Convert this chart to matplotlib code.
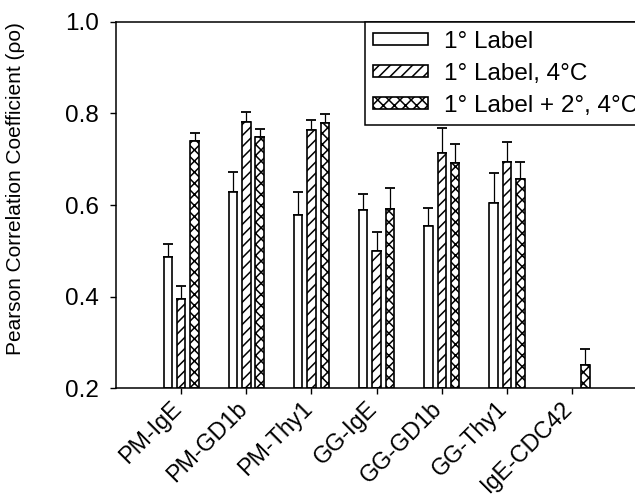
import numpy as np
import matplotlib
matplotlib.use("Agg")
import matplotlib.pyplot as plt
from matplotlib.transforms import ScaledTranslation

plt.rcParams["font.family"] = ["Liberation Sans", "DejaVu Sans"]
plt.rcParams["hatch.linewidth"] = 1.1

# Pearson correlation per probe pair and labelling condition
pairs = ["PM-IgE", "PM-GD1b", "PM-Thy1", "GG-IgE", "GG-GD1b", "GG-Thy1", "IgE-CDC42"]
series_names = ["1° Label", "1° Label, 4°C", "1° Label + 2°, 4°C"]

primary = [0.487, 0.628, 0.578, 0.588, 0.555, 0.604, np.nan]
primary_err = [0.028, 0.045, 0.051, 0.036, 0.038, 0.067, np.nan]

primary_cold = [0.395, 0.781, 0.764, 0.499, 0.714, 0.693, np.nan]
primary_cold_err = [0.028, 0.022, 0.022, 0.043, 0.055, 0.045, np.nan]

secondary_cold = [0.740, 0.748, 0.779, 0.591, 0.692, 0.657, 0.250]
secondary_cold_err = [0.017, 0.019, 0.019, 0.046, 0.041, 0.036, 0.036]

values = [primary, primary_cold, secondary_cold]
errors = [primary_err, primary_cold_err, secondary_cold_err]
hatches = ["", "///", "xxx"]
offsets = [-0.205, 0.0, 0.205]

fig = plt.figure(figsize=(6.35, 4.98), dpi=100)
ax = fig.add_axes([116 / 635, 1 - 388 / 498, (647 - 116) / 635, (388 - 22) / 498])

x = np.arange(len(pairs))
for vals, errs, hatch, off, name in zip(values, errors, hatches, offsets, series_names):
    vals = np.array(vals)
    errs = np.array(errs)
    ax.bar(x + off, vals - 0.2, bottom=0.2, width=0.13, color="white",
           edgecolor="black", linewidth=1.2, hatch=hatch, label=name, zorder=2)
    ax.errorbar(x + off, vals, yerr=[np.zeros_like(errs), errs], fmt="none",
                ecolor="black", elinewidth=0.9, capsize=3.3, capthick=1.3, zorder=1)

ax.set_xlim(-1.0, 7.15)
ax.set_ylim(0.2, 1.0)
ax.set_yticks([0.2, 0.4, 0.6, 0.8, 1.0])
ax.set_yticklabels(["0.2", "0.4", "0.6", "0.8", "1.0"], fontsize=17.5)
ax.set_xticks(x)
ax.set_xticklabels(pairs, rotation=45, ha="right", rotation_mode="anchor", fontsize=16.8)
ax.tick_params(axis="both", direction="out", length=4.3, width=1.0, colors="black")
ax.tick_params(axis="x", pad=4)
ax.tick_params(axis="y", pad=8)

# pull the slanted category labels back so their ends sit under the ticks
shift = ScaledTranslation(-8 / 72, 2 / 72, fig.dpi_scale_trans)
for lbl in ax.get_xticklabels():
    lbl.set_transform(lbl.get_transform() + shift)

for side in ["left", "bottom", "top"]:
    ax.spines[side].set_linewidth(1.1)
ax.spines["right"].set_visible(False)

ax.set_ylabel("Pearson Correlation Coefficient (ρo)", fontsize=15)
ax.yaxis.set_label_coords(-0.172, 0.544)

leg = ax.legend(loc="upper right", bbox_to_anchor=(1.0, 1.0),
                fontsize=17.5, frameon=True, fancybox=False,
                edgecolor="black", framealpha=1.0, borderaxespad=0.0,
                handlelength=2.25, handleheight=0.35, handletextpad=0.68,
                labelspacing=0.42, borderpad=0.35)
leg.get_frame().set_linewidth(1.1)

fig.savefig("out.png", dpi=100)
